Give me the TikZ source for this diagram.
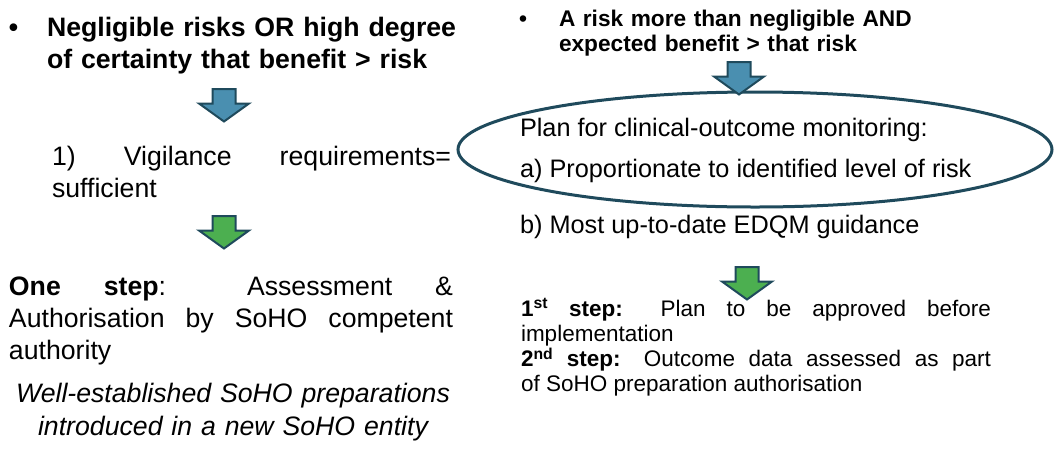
\documentclass[tikz,border=0pt]{standalone}
\usepackage{fontspec}
\setmainfont{Liberation Sans}
\usetikzlibrary{shapes.geometric}

\definecolor{arrowblue}{HTML}{4A8FB0}
\definecolor{arrowgreen}{HTML}{4CAF50}
\definecolor{rimdark}{HTML}{1F4A5C}

% fat down arrow: centre x, top y, fill colour
\newcommand{\blockarrow}[3]{%
\draw[arrowbox, fill=#3] (#1-11.5,#2) -- ++(23,0) -- ++(0,14.5) -- ++(13.5,0)
  -- (#1,#2+32.5) -- (#1-25,#2+14.5) -- ++(13.5,0) -- cycle;}

\begin{document}
\begin{tikzpicture}[x=1pt,y=-1pt]
\tikzstyle{every node}=[inner sep=0pt,outer sep=0pt]
\tikzstyle{head}=[font=\fontsize{26.67}{32}\selectfont\bfseries,anchor=base west,align=left]
\tikzstyle{smallhead}=[font=\fontsize{22.67}{25.5}\selectfont\bfseries,anchor=base west,align=left]
\tikzstyle{body}=[font=\fontsize{26.67}{32}\selectfont,anchor=base west,align=justify]
\tikzstyle{planline}=[font=\fontsize{25.3}{28}\selectfont,anchor=base west]
\tikzstyle{steps}=[font=\fontsize{22.5}{25.3}\selectfont,anchor=base west,align=justify,text width=470pt]
\tikzstyle{arrowbox}=[draw=rimdark,line width=2pt,line join=miter]
\tikzstyle{ring}=[draw=rimdark,line width=3pt,ellipse,minimum width=594pt,minimum height=115pt]

\useasboundingbox (0,0) rectangle (1054,448);

% left column
\node[head] (lbullet) at (9,36) {•};
\node[head,text width=440pt] (lhead) at (47,36) {Negligible risks OR high degree\\of certainty that benefit > risk};
\blockarrow{224}{89}{arrowblue}
\node[body,text width=399pt] (vig) at (52,165) {1) Vigilance requirements=\linebreak sufficient};
\blockarrow{224}{216}{arrowgreen}
\node[body,text width=444pt] (onestep) at (9,295) {\textbf{One step}: Assessment \&\linebreak Authorisation by SoHO competent\linebreak authority};
\node[body,font=\fontsize{26.67}{33}\selectfont\itshape,anchor=base,align=center,text width=460pt] (wellest) at (233,402) {Well-established SoHO preparations\\introduced in a new SoHO entity};

% right column
\node[smallhead] (rbullet) at (519,26) {•};
\node[smallhead,text width=440pt] (rhead) at (559,26) {A risk more than negligible AND\\expected benefit > that risk};
\node[ring] (ring) at (755,149.5) {};
\blockarrow{739}{62}{arrowblue}
\node[planline] (plan) at (520,136) {Plan for clinical-outcome monitoring:};
\node[planline] (pa) at (520,177) {a) Proportionate to identified level of risk};
\node[planline] (pb) at (520,233) {b) Most up-to-date EDQM guidance};
\blockarrow{747}{267}{arrowgreen}
\node[steps] (steps) at (521,316) {\textbf{1\textsuperscript{st} step:} Plan to be approved before\linebreak implementation\\\textbf{2\textsuperscript{nd} step:} Outcome data assessed as part\linebreak of SoHO preparation authorisation};
\end{tikzpicture}
\end{document}
